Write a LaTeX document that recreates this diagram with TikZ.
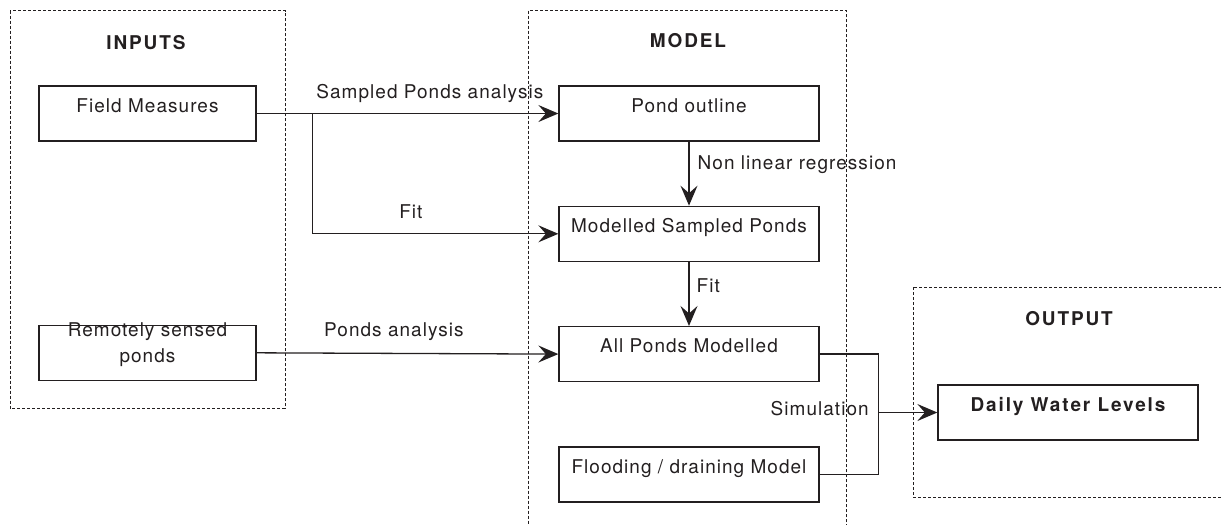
\documentclass[tikz,border=0pt]{standalone}
\usepackage{fontspec}
\setmainfont{TeX Gyre Heros}[LetterSpace=5.5]
\usetikzlibrary{arrows.meta,positioning}
\definecolor{ink}{HTML}{231F20}

\begin{document}
\begin{tikzpicture}[
  x=0.2mm, y=-0.2mm,
  font=\fontsize{10.8}{14.7}\selectfont, text=ink,
  blk/.style={draw=ink, line width=0.26mm, minimum width=52mm, inner xsep=0pt, inner ysep=0pt,
              text height=5.25mm, text depth=5.75mm},
  inp/.style={blk, minimum width=43.4mm},
  grp/.style={draw=ink, line width=0.2mm, dash pattern=on 0.6mm off 0.4mm},
  bf/.style={font=\fontsize{10.8}{14.7}\selectfont\bfseries\addfontfeature{LetterSpace=10}},
  hd/.style={bf, anchor=base},
  fl/.style={-{Stealth[length=4mm, width=3.4mm, inset=1.5mm]}, line width=0.26mm, draw=ink},
  ln/.style={line width=0.26mm, draw=ink},
  lbl/.style={anchor=base, inner sep=0pt},
]
\useasboundingbox (0,0) rectangle (1221,524);
% group frames, model and output run off the page
\draw[grp] (10,10.7) rectangle (285,408.5);
\draw[grp] (528,10.7) rectangle (846,540);
\draw[grp] (913,287) rectangle (1240,497);
\node[hd] (tin) at (146,49) {INPUTS};
\node[hd] (tmod) at (688,47.3) {MODEL};
\node[hd] (tout) at (1069,325.7) {OUTPUT};

\node[inp] (fms) at (147.5,113.5) {Field Measures};
\node[inp, below=36.6mm of fms, text width=43.4mm, align=center,
      text height=2.2mm, text depth=8.8mm] (rsp) {Remotely sensed\\ponds};

\node[blk] (pol) at (689,113.5) {Pond outline};
\node[blk, below=12.8mm of pol] (msp) {Modelled Sampled Ponds};
\node[blk, below=12.8mm of msp] (apm) {All Ponds Modelled};
\node[blk, below=12.8mm of apm] (fdm) {Flooding / draining Model};
\node[blk, bf] (dwl) at (1068,412.5) {Daily Water Levels};

\coordinate (split) at ([xshift=11.2mm]fms.east);
\draw[fl] (fms.east) -- node[lbl, pos=.574, yshift=3mm] {Sampled Ponds analysis} (pol.west);
\draw[fl] (split) |- node[lbl, pos=.7, yshift=3mm] {Fit} (msp.west);
\draw[fl] (rsp.east) -- node[lbl, pos=.455, yshift=3.3mm] {Ponds analysis} (apm.west);
\draw[fl] (pol) -- node[lbl, pos=.44, anchor=base west, xshift=1.6mm] {Non linear regression} (msp);
\draw[fl] (msp) -- node[lbl, pos=.48, anchor=base west, xshift=1.4mm] {Fit} (apm);

% both model outputs feed the simulation
\coordinate (sim) at ([xshift=-11.8mm]dwl.west);
\draw[ln] (apm.east) -| (sim);
\draw[ln] (fdm.east) -| (sim);
\draw[fl] (sim) -- node[lbl, pos=0, anchor=base east, xshift=-1.8mm, yshift=-0.6mm] {Simulation} (dwl.west);
\end{tikzpicture}
\end{document}
